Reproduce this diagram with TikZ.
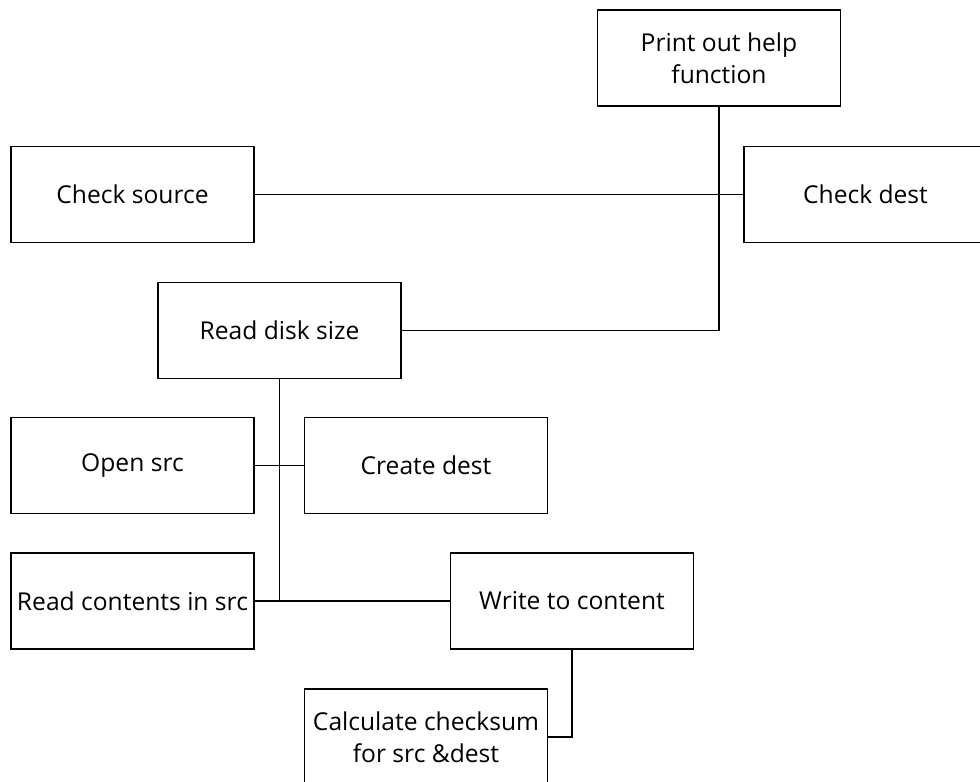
\documentclass[tikz,border=0pt]{standalone}
\usepackage{fontspec}
\setmainfont{Open Sans}
\usetikzlibrary{positioning}

\begin{document}
\begin{tikzpicture}[x=0.025cm, y=-0.025cm,
    box/.style = {draw, line width=1pt, minimum width=6.075cm, minimum height=2.4cm,
                  align=center, inner sep=0pt, font=\fontsize{17.5}{23}\selectfont},
    link/.style = {line width=1pt}]

    \useasboundingbox (0,0) rectangle (980,782);
    \clip (0,0) rectangle (980,782);

    \node[box] (help)   at (719,58)    {Print out help\\function};
    \node[box] (source) at (132.5,194.5) {Check source};
    \node[box] (dest)   at (865.5,194.5) {Check dest};
    \node[box] (disk)   at (279.5,330.5) {Read disk size};
    \node[box] (opensrc)    at (132.5,465.5) {Open src};
    \node[box] (createdest) at (426,465.5)   {Create dest};
    \node[box] (readsrc)    at (132.5,601)   {Read contents in src};
    \node[box] (write)      at (572,601)     {Write to content};
    \node[box] (checksum)   at (426,737)     {Calculate checksum\\for src \&dest};

    \draw[link] (source) -- (dest);
    \draw[link] (help.south) |- (disk.east);
    \draw[link] (disk.south) -- (disk.south |- readsrc.east);
    \draw[link] (opensrc) -- (createdest);
    \draw[link] (readsrc) -- (write);
    \draw[link] (write.south) |- (checksum.east);

\end{tikzpicture}
\end{document}
